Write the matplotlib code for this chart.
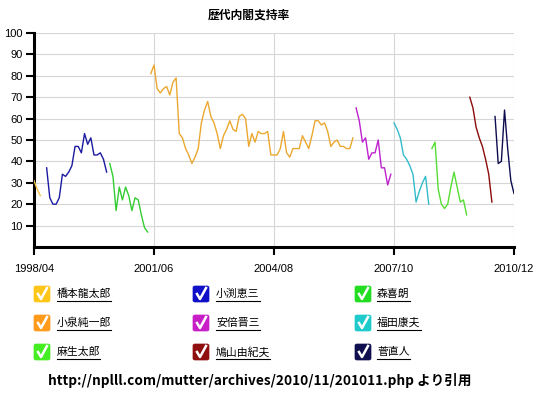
import matplotlib
matplotlib.use('Agg')
import matplotlib.pyplot as plt
from matplotlib.patches import FancyBboxPatch
from matplotlib.lines import Line2D

plt.rcParams['font.family'] = ['Liberation Sans', 'Noto Sans CJK JP', 'DejaVu Sans']

title = '歴代内閣支持率'
source = 'http://nplll.com/mutter/archives/2010/11/201011.php より引用'
x_tick_labels = ['1998/04', '2001/06', '2004/08', '2007/10', '2010/12']
y_ticks = [10, 20, 30, 40, 50, 60, 70, 80, 90, 100]

names = ['橋本龍太郎', '小渕恵三', '森喜朗', '小泉純一郎', '安倍晋三',
         '福田康夫', '麻生太郎', '鳩山由紀夫', '菅直人']
starts = ['1998/04', '1998/08', '2000/04', '2001/05', '2006/10',
          '2007/10', '2008/10', '2009/10', '2010/06']

hashimoto = [31, 27, 24]
obuchi = [37, 23, 20, 20, 23, 34, 33, 35, 38, 47, 47, 44, 53, 48, 51, 43, 43, 44, 41, 35]
mori = [39, 33, 17, 28, 22, 28, 24, 17, 23, 22, 15, 9, 7]
koizumi = [81, 85, 74, 72, 74, 75, 71, 77, 79, 53, 51, 46, 43, 39, 42, 46,
           58, 64, 68, 61, 58, 53, 46, 52, 55, 59, 55, 54, 61, 62, 60, 47,
           53, 49, 54, 53, 53, 54, 43, 43, 43, 46, 54, 44, 42, 46, 46, 46,
           52, 49, 46, 52, 59, 59, 57, 58, 54, 47, 49, 50, 47, 47, 46, 46, 51]
abe = [65, 59, 49, 51, 41, 44, 44, 50, 37, 37, 29, 34]
fukuda = [58, 55, 51, 43, 41, 38, 34, 21, 26, 30, 33, 20]
aso = [46, 49, 27, 20, 18, 20, 28, 35, 28, 21, 22, 15]
hatoyama = [70, 65, 56, 51, 47, 41, 34, 21]
kan = [61, 39, 40, 64, 46, 31, 25]

series = [hashimoto, obuchi, mori, koizumi, abe, fukuda, aso, hatoyama, kan]
line_colors = ['#F2C447', '#1A1AA0', '#33CC33', '#EBA830', '#BB22CC',
               '#33BBCC', '#55DD33', '#8B0A0A', '#0D0D50']
box_colors = ['#FFC61A', '#1010C8', '#22DD22', '#FF9A1A', '#C81EC8',
              '#1ECACA', '#44EE22', '#901010', '#101050']


def month_index(s):
    y, m = s.split('/')
    return (int(y) - 1998) * 12 + (int(m) - 4)


W, H = 542, 394
fig = plt.figure(figsize=(W / 100, H / 100), dpi=100)
fig.patch.set_facecolor('white')
ax = fig.add_axes([34 / W, 1 - 247 / H, 480 / W, 214 / H])

for vals, st, col in zip(series, starts, line_colors):
    m0 = month_index(st)
    xs = [m0 + i for i in range(len(vals))]
    ax.plot(xs, vals, color=col, lw=1.0, zorder=3)

xt = [month_index(s) for s in x_tick_labels]
ax.set_xlim(xt[0], xt[-1])
ax.set_ylim(0, 100)
ax.set_xticks(xt)
ax.set_xticklabels(x_tick_labels, fontsize=8)
ax.set_yticks(y_ticks)
ax.set_yticklabels([str(v) for v in y_ticks], fontsize=8)
ax.tick_params(axis='both', direction='out', length=6, width=1.5, color='black')
ax.tick_params(axis='x', pad=6)
ax.tick_params(axis='y', pad=2)
for s in ['top', 'right']:
    ax.spines[s].set_visible(False)
for s in ['left', 'bottom']:
    ax.spines[s].set_linewidth(2.2)
    ax.spines[s].set_color('black')
ax.grid(True, color='#D6D6D6', lw=0.8, zorder=0)
ax.set_axisbelow(True)

fig.text(249 / W, 1 - 15 / H, title, ha='center', va='center', fontsize=8.5,
         fontweight='bold', family=['Noto Sans CJK JP', 'DejaVu Sans'])

# legend (checkbox style)
col_box_x = [34, 193, 355]
col_text_x = [57, 216, 377]
row_y = [294, 323, 352]
bs = 16
texts = []
for i, (nm, bc) in enumerate(zip(names, box_colors)):
    r, c = divmod(i, 3)
    bx, by = col_box_x[c], row_y[r]
    box = FancyBboxPatch((bx / W, 1 - (by + bs / 2) / H), bs / W, bs / H,
                         boxstyle='round,pad=0,rounding_size=0.004',
                         transform=fig.transFigure, facecolor=bc,
                         edgecolor=bc, lw=0.5)
    fig.add_artist(box)
    chk = Line2D([(bx + 4) / W, (bx + 7) / W, (bx + 13) / W],
                 [1 - (by + 0) / H, 1 - (by + 5) / H, 1 - (by - 6) / H],
                 transform=fig.transFigure, color='white', lw=1.8)
    fig.add_artist(chk)
    t = fig.text(col_text_x[c] / W, 1 - by / H, nm, ha='left', va='center',
                 fontsize=7.8, family=['Noto Sans CJK JP', 'DejaVu Sans'])
    texts.append((t, by))

fig.canvas.draw()
renderer = fig.canvas.get_renderer()
for t, by in texts:
    bb = t.get_window_extent(renderer)
    yl = 1 - (by + 7) / H
    fig.add_artist(Line2D([bb.x0 / W, bb.x1 / W], [yl, yl],
                          transform=fig.transFigure, color='black', lw=0.8))

fig.text(260 / W, 1 - 380 / H, source, ha='center', va='center', fontsize=9.8,
         fontweight='bold', family=['Noto Sans CJK JP', 'DejaVu Sans'])

fig.savefig('out.png', dpi=100)
